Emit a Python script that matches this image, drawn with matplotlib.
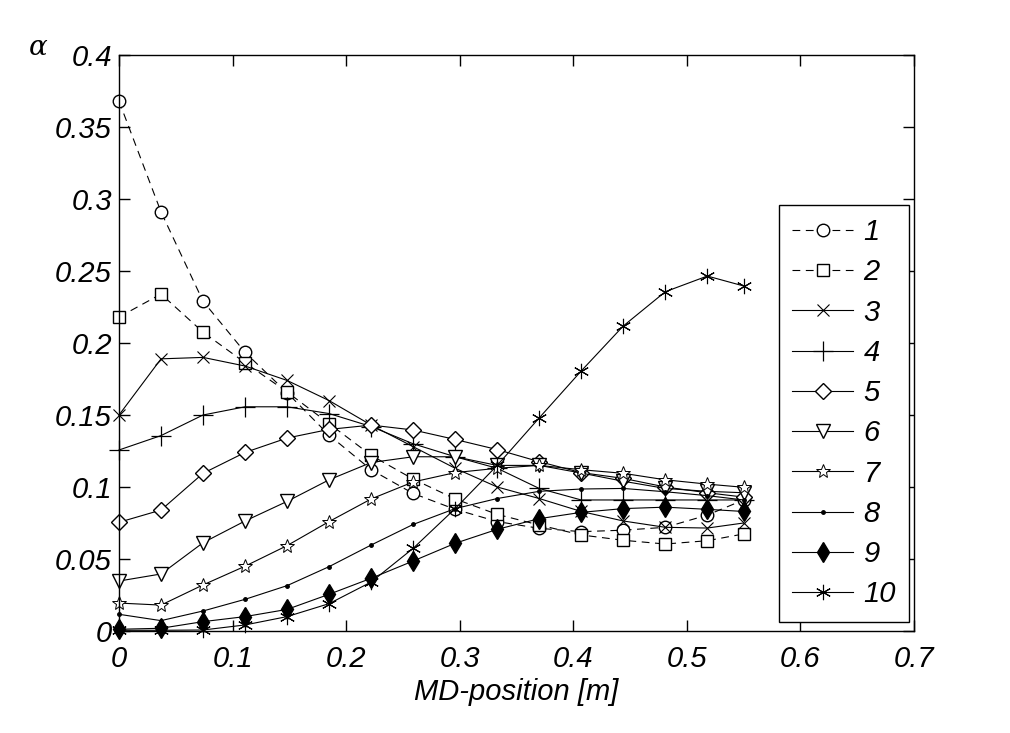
import matplotlib
matplotlib.use('Agg')
import matplotlib.pyplot as plt
import numpy as np

# MD-position of the samples [m]
pos = [0, 0.037, 0.074, 0.111, 0.148, 0.185, 0.222, 0.259, 0.296, 0.333,
       0.370, 0.407, 0.444, 0.481, 0.518, 0.55]

a1 = [0.368, 0.291, 0.229, 0.1935, 0.1655, 0.136, 0.112, 0.0955, 0.0845, 0.076,
      0.0713, 0.069, 0.070, 0.072, 0.0805, 0.091]
a2 = [0.218, 0.234, 0.2075, 0.1863, 0.166, 0.144, 0.122, 0.1055, 0.0917, 0.081,
      0.0736, 0.0667, 0.063, 0.0604, 0.0627, 0.0674]
a3 = [0.150, 0.189, 0.190, 0.184, 0.174, 0.160, 0.143, 0.128, 0.113, 0.100,
      0.092, 0.083, 0.0764, 0.072, 0.0715, 0.075]
a4 = [0.1257, 0.1357, 0.150, 0.1557, 0.1557, 0.151, 0.142, 0.130, 0.121, 0.113,
      0.099, 0.091, 0.091, 0.091, 0.091, 0.091]
a5 = [0.0755, 0.084, 0.1095, 0.124, 0.134, 0.140, 0.143, 0.1396, 0.133, 0.126,
      0.1176, 0.110, 0.106, 0.100, 0.096, 0.093]
a6 = [0.0347, 0.0396, 0.0613, 0.0764, 0.090, 0.105, 0.117, 0.121, 0.121, 0.115,
      0.115, 0.1097, 0.104, 0.099, 0.097, 0.096]
a7 = [0.0194, 0.018, 0.032, 0.045, 0.0593, 0.076, 0.0917, 0.1035, 0.110, 0.113,
      0.115, 0.112, 0.1095, 0.105, 0.102, 0.0998]
a8 = [0.0116, 0.0072, 0.0139, 0.022, 0.0315, 0.0447, 0.0597, 0.074, 0.085, 0.092,
      0.097, 0.0986, 0.099, 0.0967, 0.094, 0.091]
a9 = [0.0012, 0.0019, 0.0065, 0.010, 0.015, 0.0255, 0.0366, 0.0486, 0.0609, 0.0706,
      0.078, 0.0824, 0.085, 0.086, 0.0845, 0.083]
a10 = [0.0005, 0.0005, 0.0007, 0.0042, 0.010, 0.019, 0.034, 0.0574, 0.085, 0.115,
       0.148, 0.1806, 0.2118, 0.2356, 0.2465, 0.2396]

labels = ['1', '2', '3', '4', '5', '6', '7', '8', '9', '10']
xticks = [0, 0.1, 0.2, 0.3, 0.4, 0.5, 0.6, 0.7]
yticks = [0, 0.05, 0.1, 0.15, 0.2, 0.25, 0.3, 0.35, 0.4]

plt.rcParams['font.family'] = ['Liberation Sans', 'DejaVu Sans']
plt.rcParams['font.style'] = 'italic'
plt.rcParams['mathtext.fontset'] = 'dejavuserif'

fig = plt.figure(figsize=(10.1, 7.33), dpi=100)
ax = fig.add_axes([119 / 1010, 1 - 631 / 733, 795 / 1010, 576 / 733])

dash = (0, (7, 5))
styles = [
    dict(ls=dash, marker='o', ms=9, mfc='white'),
    dict(ls=dash, marker='s', ms=8, mfc='white'),
    dict(ls='-', marker='x', ms=8, mew=0.8),
    dict(ls='-', marker='+', ms=14, mew=0.9),
    dict(ls='-', marker='D', ms=8, mfc='white'),
    dict(ls='-', marker='v', ms=10, mfc='white'),
    dict(ls='-', marker='*', ms=10, mfc='white', mew=0.7),
    dict(ls='-', marker='.', ms=5),
    dict(ls='-', marker='d', ms=10, mfc='black'),
    dict(ls='-', marker=(6, 2, 0), ms=11, mew=0.8),
]
series = [a1, a2, a3, a4, a5, a6, a7, a8, a9, a10]

for data, lab, st in zip(series, labels, styles):
    ax.plot(pos, data, color='black', lw=0.8, mec='black', label=lab,
            clip_on=False, **st)

ax.set_xlim(0, 0.7)
ax.set_ylim(0, 0.4)
ax.set_xticks(xticks)
ax.set_yticks(yticks)
ax.set_xticklabels([f'{t:g}' for t in xticks])
ax.set_yticklabels([f'{t:g}' for t in yticks])
ax.tick_params(direction='in', length=8, width=1, top=True, right=True,
               labelsize=21)
ax.tick_params(axis='x', pad=10)
ax.tick_params(axis='y', pad=5)
for s in ax.spines.values():
    s.set_linewidth(1)

ax.set_xlabel('MD-position [m]', fontsize=21, labelpad=4)
fig.text(0.028, 0.925, r'$\alpha$', fontsize=20)

leg = ax.legend(loc='upper left', bbox_to_anchor=(779 / 1010, 1 - 205 / 733),
                bbox_transform=fig.transFigure, fontsize=21, frameon=True,
                fancybox=False, edgecolor='black', framealpha=1,
                borderaxespad=0, handlelength=2.1, labelspacing=0.42,
                borderpad=0.45, handletextpad=0.35)
leg.get_frame().set_linewidth(1)

fig.savefig('out.png', dpi=100)
